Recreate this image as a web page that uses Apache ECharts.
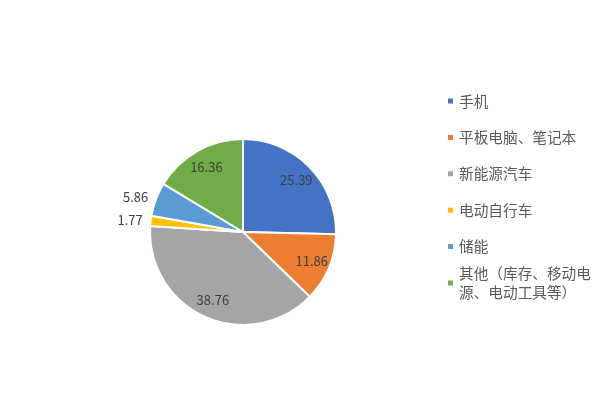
<!DOCTYPE html>
<html>
<head>
<meta charset="utf-8">
<script src="https://cdn.jsdelivr.net/npm/echarts@6/dist/echarts.min.js"></script>
<style>
  html, body { margin: 0; padding: 0; background: #fff; }
  #main { width: 594px; height: 400px; }
</style>
</head>
<body>
<div id="main"></div>
<script>
// 各应用领域占比
var categories = ['手机', '平板电脑、笔记本', '新能源汽车', '电动自行车', '储能', '其他（库存、移动电源、电动工具等）'];
var shares = [25.39, 11.86, 38.76, 1.77, 5.86, 16.36];
var colors = ['#4472C4', '#ED7D31', '#A5A5A5', '#FFC000', '#5B9BD5', '#70AD47'];

var fontFamily = '"Noto Sans CJK SC", "Noto Sans", sans-serif';
var center = [243, 232];
var R = 93;

// 小于10的放外侧，其余放内侧
var outerData = categories.map(function (name, i) {
  return { name: name, value: shares[i], label: { show: shares[i] < 10 } };
});
var innerData = categories.map(function (name, i) {
  return { name: name, value: shares[i], label: { show: shares[i] >= 10 } };
});

function wrapName(name) {
  return name.length > 9 ? name.slice(0, 9) + '\n' + name.slice(9) : name;
}

var legendText = {
  color: '#595959',
  fontSize: 14.67,
  lineHeight: 19,
  fontFamily: fontFamily
};

var chart = echarts.init(document.getElementById('main'));
chart.setOption({
  color: colors,
  backgroundColor: '#fff',
  animation: false,
  legend: [{
    orient: 'vertical',
    left: 446,
    top: 91.5,
    padding: 0,
    itemWidth: 7,
    itemHeight: 7,
    itemGap: 17.4,
    icon: 'rect',
    selectedMode: false,
    textStyle: legendText,
    data: categories.slice(0, 5)
  }, {
    orient: 'vertical',
    left: 446,
    top: 254.5,
    padding: 0,
    itemWidth: 7,
    itemHeight: 7,
    icon: 'rect',
    selectedMode: false,
    formatter: wrapName,
    textStyle: Object.assign({}, legendText, { padding: [19, 0, 0, 0] }),
    data: categories.slice(5)
  }],
  series: [{
    name: '占比',
    type: 'pie',
    center: center,
    radius: [0, R],
    startAngle: 90,
    avoidLabelOverlap: false,
    silent: true,
    itemStyle: {
      borderColor: '#fff',
      borderWidth: 2
    },
    label: {
      position: 'outside',
      formatter: '{c}',
      color: '#404040',
      fontSize: 13,
      fontFamily: fontFamily,
      distanceToLabelLine: 2
    },
    labelLine: {
      show: false,
      length: 6,
      length2: 0
    },
    data: outerData
  }, {
    // 只用于放置内侧数值标签
    name: '标签',
    type: 'pie',
    center: center,
    radius: [50, R],
    startAngle: 90,
    silent: true,
    avoidLabelOverlap: false,
    itemStyle: {
      color: 'rgba(0,0,0,0)',
      borderWidth: 0
    },
    label: {
      position: 'inside',
      formatter: '{c}',
      color: '#404040',
      fontSize: 13,
      fontFamily: fontFamily
    },
    labelLine: { show: false },
    labelLayout: { hideOverlap: false },
    data: innerData
  }]
});
</script>
</body>
</html>
